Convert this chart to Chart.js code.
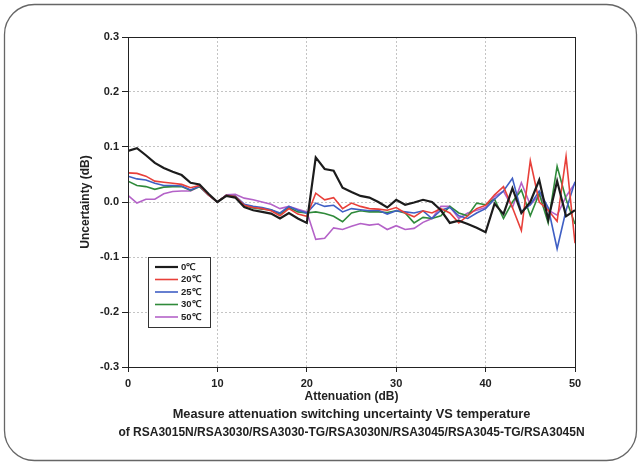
<!DOCTYPE html>
<html>
<head>
<meta charset="utf-8">
<script src="https://cdn.jsdelivr.net/npm/chart.js@4/dist/chart.umd.min.js"></script>
<style>
  html, body { margin: 0; padding: 0; background: #fff; }
  #wrap { width: 641px; height: 464px; }
</style>
</head>
<body>
<div id="wrap"><canvas id="myChart" width="641" height="464"></canvas></div>
<script>
// data (attenuation in dB, uncertainty in dB)
const attenuation = [0, 1, 2, 3, 4, 5, 6, 7, 8, 9, 10, 11, 12, 13, 14, 15, 16, 17, 18, 19, 20,
  21, 22, 23, 24, 25, 26, 27, 28, 29, 30, 31, 32, 33, 34, 35, 36, 37, 38, 39, 40,
  41, 42, 43, 44, 45, 46, 47, 48, 49, 50];

const temp0 = [0.093, 0.098, 0.085, 0.071, 0.062, 0.055, 0.049, 0.035, 0.032, 0.015, 0.0,
  0.011, 0.008, -0.009, -0.015, -0.018, -0.021, -0.030, -0.020, -0.030, -0.038,
  0.081, 0.060, 0.057, 0.026, 0.018, 0.011, 0.008, 0.000, -0.010, 0.004,
  -0.005, -0.001, 0.004, 0.000, -0.015, -0.038, -0.034, -0.040, -0.047, -0.055,
  -0.003, -0.022, 0.025, -0.020, 0.000, 0.040, -0.032, 0.038, -0.026, -0.015];
const temp20 = [0.053, 0.052, 0.047, 0.038, 0.036, 0.034, 0.032, 0.026, 0.030, 0.013, 0.0,
  0.012, 0.010, -0.006, -0.010, -0.012, -0.016, -0.025, -0.012, -0.022, -0.026,
  0.016, 0.004, 0.008, -0.012, -0.002, -0.008, -0.012, -0.013, -0.015, -0.010,
  -0.020, -0.027, -0.016, -0.020, -0.012, -0.020, -0.038, -0.025, -0.012, -0.006,
  0.013, 0.028, -0.010, -0.052, 0.075, 0.000, -0.015, -0.035, 0.083, -0.075];
const temp25 = [0.047, 0.042, 0.040, 0.034, 0.030, 0.030, 0.029, 0.022, 0.029, 0.013, 0.0,
  0.012, 0.011, -0.004, -0.008, -0.010, -0.014, -0.020, -0.008, -0.015, -0.020,
  -0.002, -0.008, -0.006, -0.018, -0.012, -0.014, -0.016, -0.015, -0.022, -0.016,
  -0.018, -0.020, -0.016, -0.030, -0.015, -0.010, -0.025, -0.030, -0.020, -0.012,
  0.005, 0.020, 0.043, -0.018, -0.005, 0.020, -0.010, -0.085, -0.015, 0.037];
const temp30 = [0.038, 0.030, 0.028, 0.023, 0.027, 0.028, 0.028, 0.021, 0.028, 0.013, 0.0,
  0.012, 0.010, -0.006, -0.011, -0.013, -0.014, -0.022, -0.010, -0.018, -0.020,
  -0.018, -0.021, -0.026, -0.036, -0.020, -0.016, -0.018, -0.018, -0.019, -0.016,
  -0.020, -0.038, -0.028, -0.030, -0.025, -0.008, -0.020, -0.025, -0.002, -0.005,
  0.005, -0.030, 0.000, 0.022, -0.025, 0.015, -0.038, 0.065, 0.005, -0.040];
const temp50 = [0.012, -0.002, 0.005, 0.005, 0.015, 0.019, 0.020, 0.020, 0.028, 0.013, 0.0,
  0.013, 0.014, 0.007, 0.004, 0.000, -0.004, -0.012, -0.008, -0.013, -0.018,
  -0.068, -0.066, -0.047, -0.050, -0.044, -0.039, -0.042, -0.040, -0.050, -0.043,
  -0.050, -0.048, -0.037, -0.030, -0.008, -0.008, -0.030, -0.020, -0.015, -0.010,
  0.010, 0.020, -0.010, 0.035, -0.005, 0.013, -0.015, -0.024, 0.010, 0.034];

const seriesLabels = ["0\u2103", "20\u2103", "25\u2103", "30\u2103", "50\u2103"];
const seriesColors = ["#1c1c1c", "#e8403a", "#3f5fc4", "#2f8a3a", "#b462c8"];
const yTicks = [-0.3, -0.2, -0.1, 0.0, 0.1, 0.2, 0.3];
const xTicks = [0, 10, 20, 30, 40, 50];
const captionLines = [
  "Measure attenuation switching uncertainty VS temperature",
  "of RSA3015N/RSA3030/RSA3030-TG/RSA3030N/RSA3045/RSA3045-TG/RSA3045N"
];

const allSeries = [temp0, temp20, temp25, temp30, temp50];
const FONT = "'Liberation Sans', Arial, sans-serif";

const datasets = allSeries.map(function (vals, i) {
  return {
    label: seriesLabels[i],
    data: attenuation.map(function (a, k) { return { x: a, y: vals[k] }; }),
    borderColor: seriesColors[i],
    backgroundColor: seriesColors[i],
    borderWidth: i === 0 ? 2.2 : 1.6,
    pointRadius: 0,
    tension: 0,
  };
});

// frame round the plot, the rounded outer border, the boxed legend and the caption
const decorations = {
  id: "decorations",
  beforeDraw(chart) {
    const ctx = chart.ctx;
    ctx.save();
    ctx.strokeStyle = "#666";
    ctx.lineWidth = 1.3;
    ctx.beginPath();
    ctx.roundRect(4.5, 4.5, 632, 456, 30);
    ctx.stroke();
    ctx.restore();
  },
  afterDraw(chart) {
    const ctx = chart.ctx;
    const a = chart.chartArea;
    ctx.save();
    ctx.strokeStyle = "#222";
    ctx.lineWidth = 1;
    ctx.strokeRect(Math.round(a.left) + 0.5, Math.round(a.top) + 0.5,
      Math.round(a.right - a.left), Math.round(a.bottom - a.top));

    // legend box
    const lx = 148.5, ly = 257.5, lw = 62, lh = 70;
    ctx.fillStyle = "#fff";
    ctx.fillRect(lx, ly, lw, lh);
    ctx.strokeStyle = "#333";
    ctx.strokeRect(lx, ly, lw, lh);
    ctx.font = "bold 9.5px " + FONT;
    ctx.textBaseline = "middle";
    chart.data.datasets.forEach(function (ds, i) {
      const y = 267 + i * 12.5;
      ctx.strokeStyle = ds.borderColor;
      ctx.lineWidth = i === 0 ? 2.2 : 1.6;
      ctx.beginPath();
      ctx.moveTo(155, y);
      ctx.lineTo(178, y);
      ctx.stroke();
      ctx.fillStyle = "#222";
      ctx.fillText(ds.label, 181, y);
    });

    // two-line caption under the axis title
    const cx = (a.left + a.right) / 2;
    ctx.fillStyle = "#222";
    ctx.textAlign = "center";
    ctx.font = "bold 12.8px " + FONT;
    ctx.fillText(captionLines[0], cx, 414);
    ctx.font = "bold 12px " + FONT;
    ctx.fillText(captionLines[1], cx, 433);
    ctx.restore();
  }
};

const config = {
  type: "line",
  data: { datasets },
  options: {
    responsive: false,
    animation: false,
    layout: { padding: { left: 78, right: 66, top: 37, bottom: 59 } },
    plugins: {
      legend: { display: false },
      tooltip: { enabled: false },
    },
    scales: {
      x: {
        type: "linear",
        min: 0,
        max: 50,
        afterFit(scale) { scale.height = 38; },
        afterBuildTicks(scale) { scale.ticks = xTicks.map(function (v) { return { value: v }; }); },
        ticks: {
          color: "#222",
          padding: 5,
          font: { family: FONT, size: 11, weight: "bold" },
          callback: function (v) { return String(v); },
        },
        grid: {
          color: "#c4c4c4",
          tickColor: "#222",
          tickLength: 5,
          tickBorderDash: [],
        },
        border: { color: "#222", width: 1, dash: [2, 2] },
        title: {
          display: true,
          text: "Attenuation (dB)",
          color: "#222",
          font: { family: FONT, size: 12, weight: "bold" },
          padding: { top: 0, bottom: 1 },
        },
      },
      y: {
        min: -0.3,
        max: 0.3,
        afterFit(scale) { scale.width = 50; },
        afterBuildTicks(scale) { scale.ticks = yTicks.map(function (v) { return { value: v }; }); },
        ticks: {
          color: "#222",
          padding: 3,
          font: { family: FONT, size: 11, weight: "bold" },
          callback: function (v) { return Math.abs(v) < 1e-9 ? "0.0" : v.toFixed(1); },
        },
        grid: {
          color: "#c4c4c4",
          tickColor: "#222",
          tickLength: 6,
          tickBorderDash: [],
        },
        border: { color: "#222", width: 1, dash: [2, 2] },
        title: {
          display: true,
          text: "Uncertainty (dB)",
          color: "#222",
          font: { family: FONT, size: 12, weight: "bold" },
          padding: { top: 0, bottom: 0 },
        },
      },
    },
  },
  plugins: [decorations],
};

const myChart = new Chart(document.getElementById("myChart"), config);
</script>
</body>
</html>
